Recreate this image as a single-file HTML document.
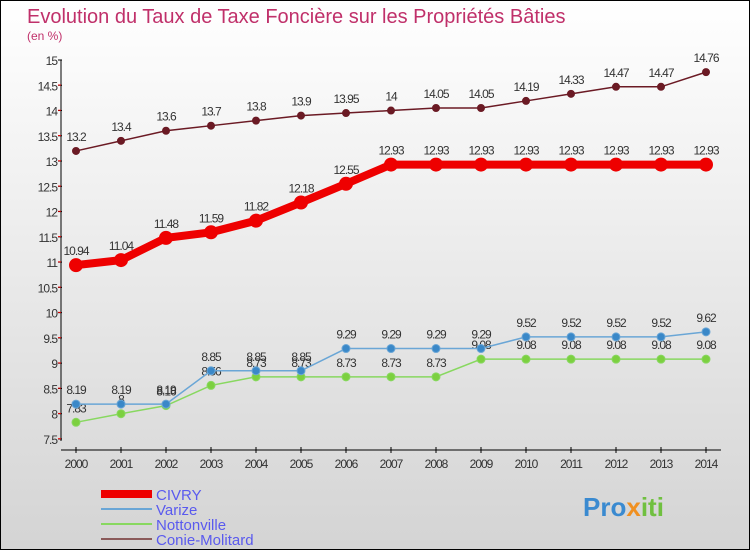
<!DOCTYPE html>
<html><head><meta charset="utf-8"><style>
body{margin:0}
#c{width:750px;height:550px;position:relative;box-sizing:border-box;border:1px solid #000;background:linear-gradient(#fff,#d4d4d4);font-family:"Liberation Sans",sans-serif;overflow:hidden}
</style></head><body>
<div id="c">
<svg id="s" width="748" height="548" xmlns="http://www.w3.org/2000/svg" style="position:absolute;left:0;top:0"></svg>
</div>
<script>
const years=[2000,2001,2002,2003,2004,2005,2006,2007,2008,2009,2010,2011,2012,2013,2014];
const civry=[10.94,11.04,11.48,11.59,11.82,12.18,12.55,12.93,12.93,12.93,12.93,12.93,12.93,12.93,12.93];
const varize=[8.19,8.19,8.19,8.85,8.85,8.85,9.29,9.29,9.29,9.29,9.52,9.52,9.52,9.52,9.62];
const notton=[7.83,8,8.16,8.56,8.73,8.73,8.73,8.73,8.73,9.08,9.08,9.08,9.08,9.08,9.08];
const conie=[13.2,13.4,13.6,13.7,13.8,13.9,13.95,14,14.05,14.05,14.19,14.33,14.47,14.47,14.76];
const yTicks=[7.5,8,8.5,9,9.5,10,10.5,11,11.5,12,12.5,13,13.5,14,14.5,15];
const s=document.getElementById('s');const NS='http://www.w3.org/2000/svg';
const X=i=>75+i*45, Y=v=>59+(15-v)*50.53;
function el(t,a,p){const e=document.createElementNS(NS,t);for(const k in a)e.setAttribute(k,a[k]);(p||s).appendChild(e);return e;}
let t=el('text',{x:26,y:22,'font-size':20,fill:'#c0306a'});t.textContent='Evolution du Taux de Taxe Foncière sur les Propriétés Bâties';


t=el('text',{x:26,y:39,'font-size':12,fill:'#c0306a'});t.textContent='(en %)';


el('line',{x1:60,y1:59,x2:60,y2:440,stroke:'#000'});
el('line',{x1:60,y1:449,x2:720,y2:449,stroke:'#000'});
yTicks.forEach(v=>{el('line',{x1:57,x2:61,y1:Y(v),y2:Y(v),stroke:'#000'});
if(v>7.5)el('line',{x1:57,x2:60,y1:Y(v)+25,y2:Y(v)+25,stroke:'#e00'});
const tt=el('text',{x:56,y:Y(v)+5,'font-size':12,fill:'#333','text-anchor':'end','letter-spacing':'-1'});tt.textContent=v;

});
years.forEach((y,i)=>{el('line',{x1:X(i),x2:X(i),y1:446,y2:452,stroke:'#000'});
const tt=el('text',{x:X(i),y:467,'font-size':12,fill:'#333','text-anchor':'middle','letter-spacing':'-1'});tt.textContent=y;

});
function series(d,col,w,r,fill,name){
const g=el('g',{});
el('polyline',{points:d.map((v,i)=>X(i)+','+Y(v)).join(' '),fill:'none',stroke:col,'stroke-width':w},g);
d.forEach((v,i)=>{const c=el('circle',{cx:X(i),cy:Y(v),r:r,fill:fill,stroke:col},g);

const tt=el('text',{x:X(i),y:Y(v)-10,'font-size':12,fill:'#333','text-anchor':'middle','letter-spacing':'-1'},g);tt.textContent=v;
});}
series(conie,'#6b1a24',1.5,3.5,'#6b1a24','conie-molitard');
series(civry,'#ee0000',8,6.5,'#ee0000','civry');
series(notton,'#88d860',1.5,4,'#7cd040','nottonville');
series(varize,'#6aa6d6',1.5,4,'#3a88c8','varize');
const leg=[['CIVRY','#ee0000',8],['Varize','#6aa6d6',2],['Nottonville','#88d860',2],['Conie-Molitard','#8a5a5a',2]];
leg.forEach((l,i)=>{const y=493+i*15;const g=el('g',{});
el('line',{x1:100,x2:151,y1:y,y2:y,stroke:l[1],'stroke-width':l[2]},g);
const tt=el('text',{x:155,y:y+6,'font-size':15,fill:'#5a5aee'},g);tt.textContent=l[0];});
t=el('text',{x:582,y:515,'font-size':26,'font-weight':'bold',fill:'#3a8ad0'});t.innerHTML='Pro<tspan fill="#f09020">x</tspan><tspan fill="#70c040">iti</tspan>';


</script>
</body></html>
